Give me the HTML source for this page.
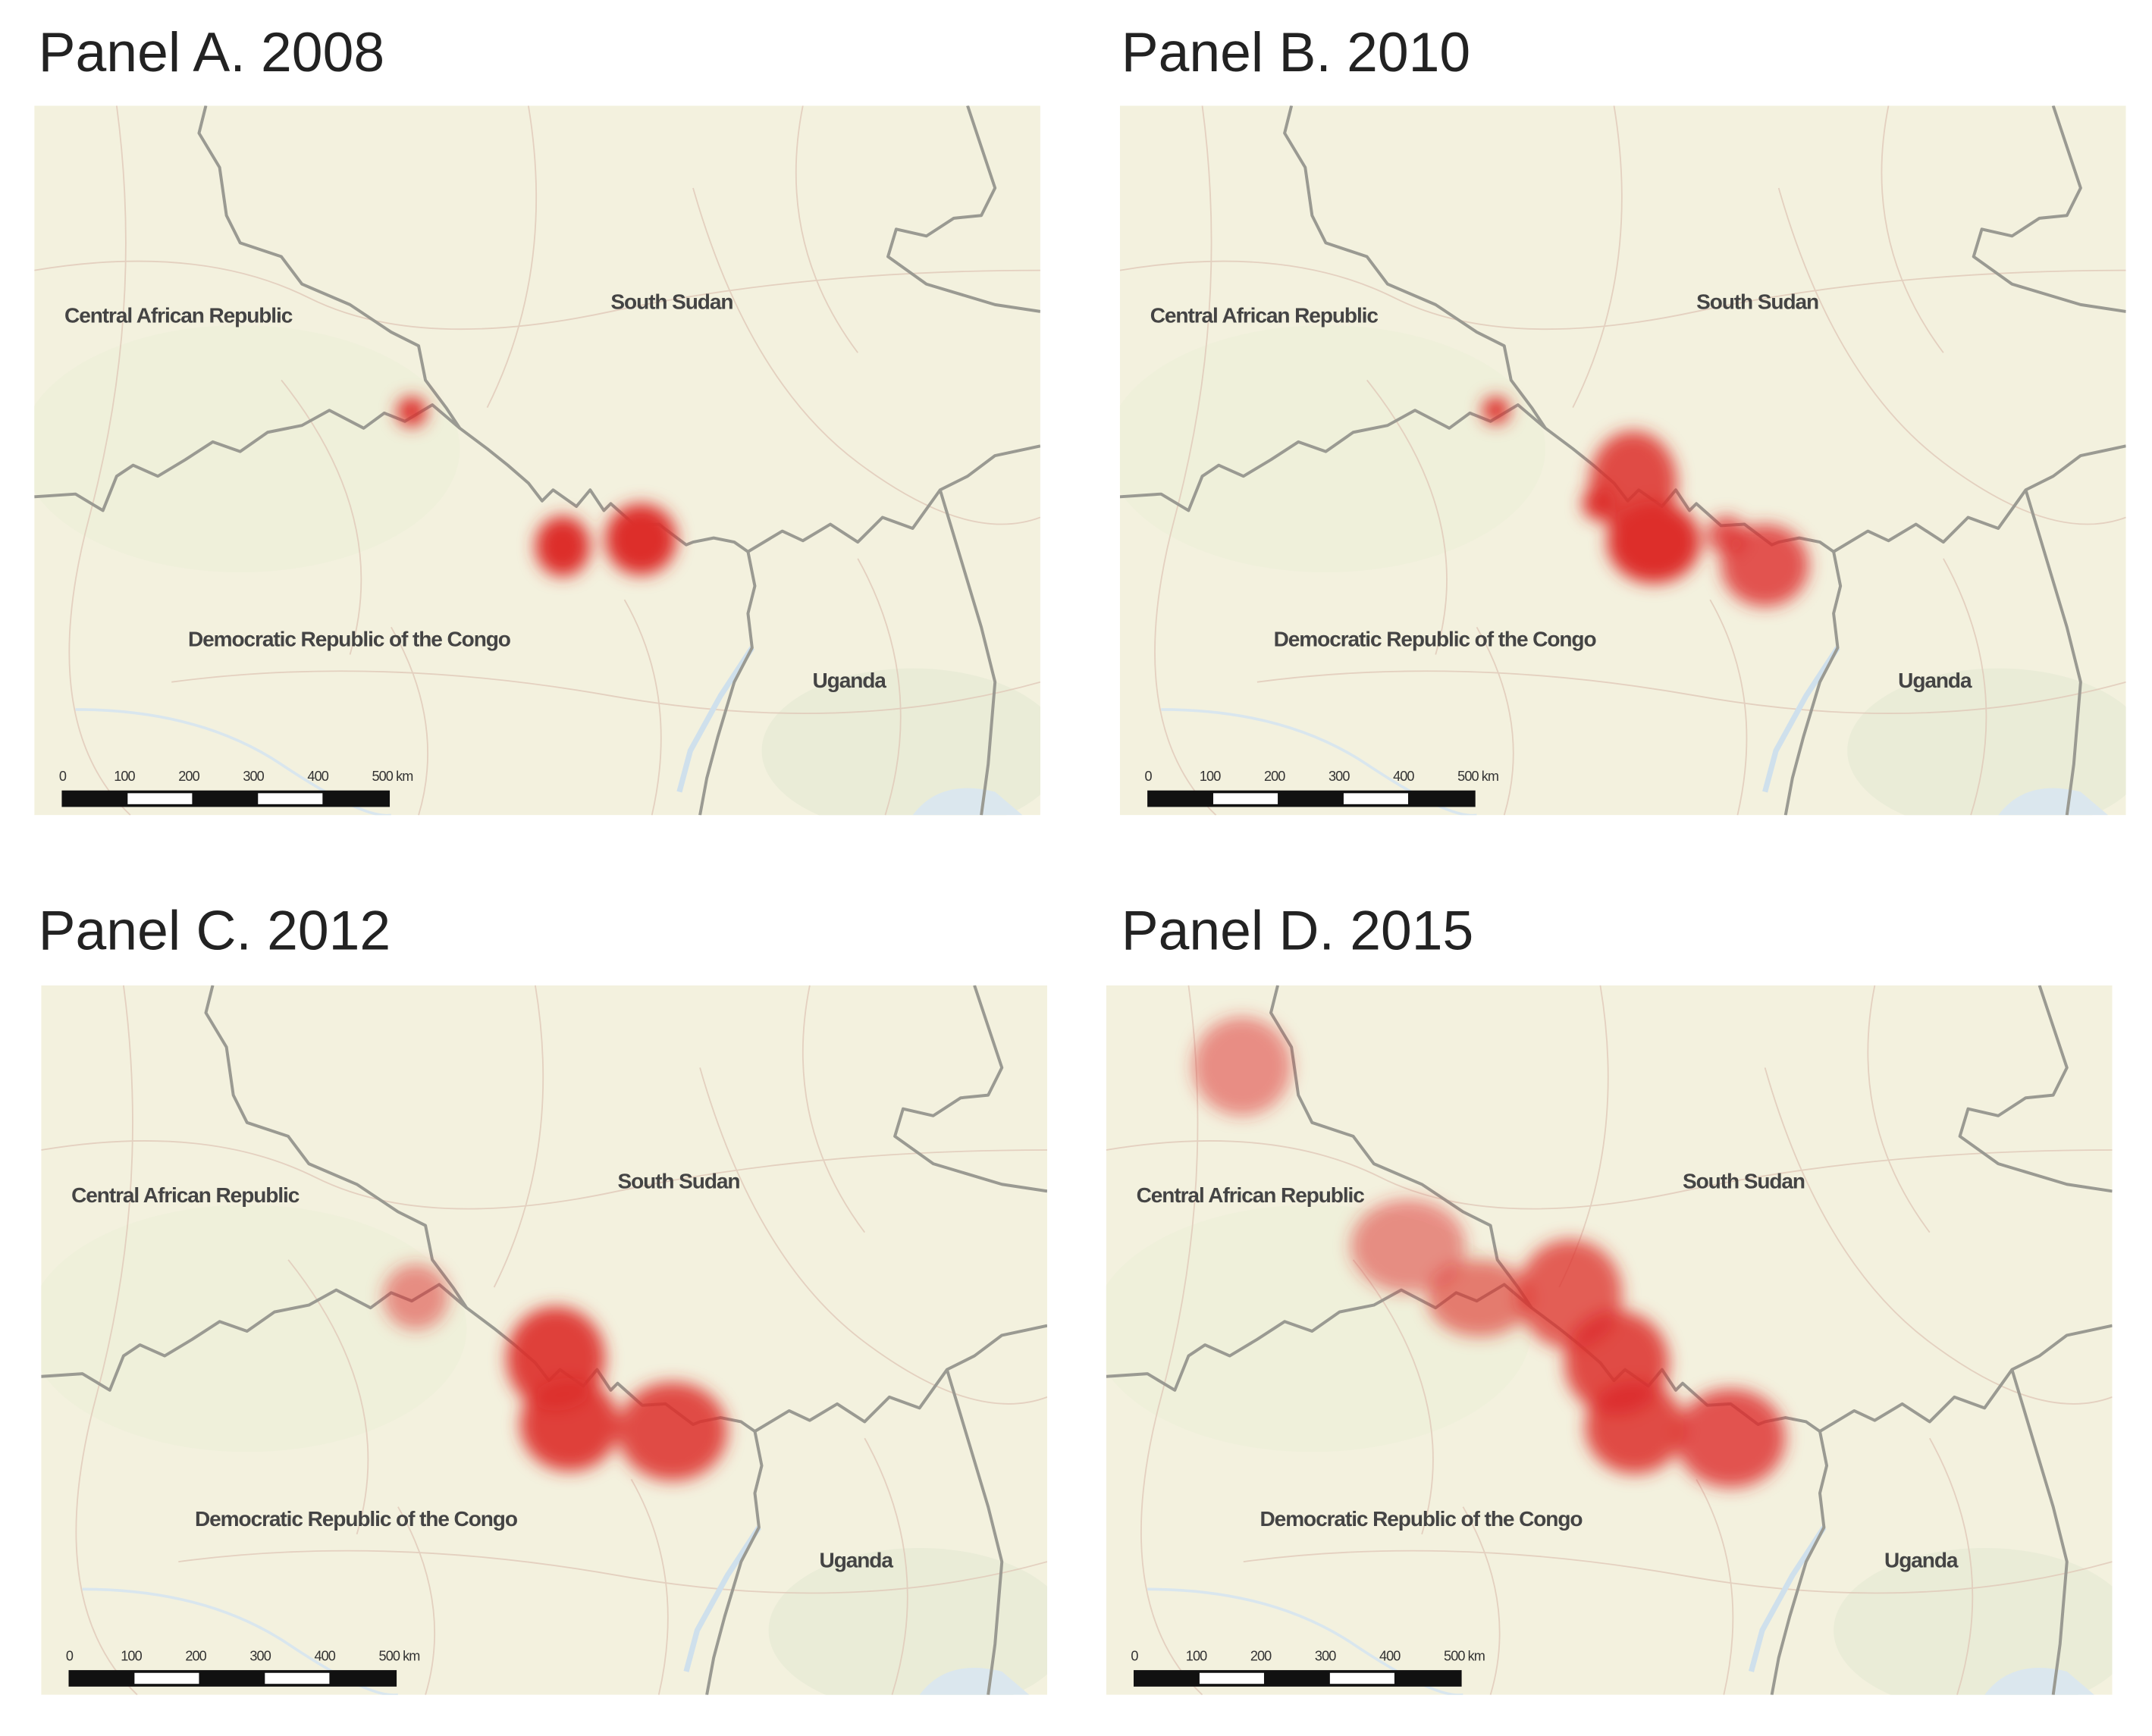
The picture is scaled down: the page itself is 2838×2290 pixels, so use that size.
<!DOCTYPE html>
<html><head><meta charset="utf-8"><style>
html,body{margin:0;padding:0;background:#fff}
svg{display:block}
text{font-family:"Liberation Sans",sans-serif}
</style></head><body>
<svg width="2838" height="2290" viewBox="0 0 1568 1265" preserveAspectRatio="none" xmlns="http://www.w3.org/2000/svg">
<defs>
<clipPath id="cp"><rect x="0" y="0" width="733" height="517"/></clipPath>
<filter id="bl" x="-50%" y="-50%" width="200%" height="200%"><feGaussianBlur stdDeviation="6"/></filter>
<g id="base">
<rect x="0" y="0" width="733" height="517" fill="#f3f1de"/>
<ellipse cx="150" cy="250" rx="160" ry="90" fill="#ecefd8" opacity=".7"/>
<ellipse cx="640" cy="470" rx="110" ry="60" fill="#e6ead4" opacity=".7"/>
<g fill="none" stroke="#e0c8b8" stroke-width="1" opacity=".8">
<path d="M0 120 Q120 100 200 140 T420 150 T733 120"/>
<path d="M60 0 Q80 150 40 300 T70 517"/>
<path d="M260 380 Q300 450 280 517"/>
<path d="M360 0 Q380 120 330 220"/>
<path d="M480 60 Q520 200 600 260 T733 300"/>
<path d="M100 420 Q250 400 420 430 T733 420"/>
<path d="M180 200 Q260 300 230 400"/>
<path d="M560 0 Q540 100 600 180"/>
<path d="M430 360 Q470 430 450 517"/>
<path d="M600 330 Q650 420 620 517"/>
</g>
<path d="M30 440 Q120 440 180 480 T260 517" fill="none" stroke="#d9e6ee" stroke-width="2"/>
<path d="M523 395 L500 430 L478 470 L470 500" fill="none" stroke="#cfe0ec" stroke-width="4"/>
<path d="M640 517 Q660 490 700 500 L720 517Z" fill="#dbe7ee"/>
<g fill="none" stroke="#9a9a92" stroke-width="2.2" stroke-linejoin="round">
<path d="M125 0 L120 20 L135 45 L140 80 L150 100 L180 110 L195 130 L230 145 L260 165 L280 175 L285 200 L300 220 L310 235 L330 250 L345 262 L360 275 L370 288 L378 280 L395 292 L405 280 L415 295 L420 290 L438 306 L455 305 L475 320 L480 318 L495 315 L510 318 L520 325"/>
<path d="M0 285 L30 283 L50 295 L60 270 L72 262 L90 270 L110 258 L130 245 L150 252 L170 238 L195 233 L215 222 L240 235 L255 224 L270 230 L290 218 L310 235"/>
<path d="M520 325 L525 350 L520 370 L523 395 L510 420 L498 460 L490 490 L485 517"/>
<path d="M520 325 L545 310 L560 317 L580 305 L600 318 L618 300 L640 308 L660 280 L680 270 L700 255 L733 248"/>
<path d="M660 280 L675 330 L690 380 L700 420 L695 480 L690 517"/>
<path d="M680 0 L690 30 L700 60 L690 80 L670 82 L650 95 L628 90 L622 110 L650 130 L700 145 L733 150"/>
</g>
<g font-size="15.5" font-weight="bold" fill="#444" letter-spacing="-0.6">
<text x="22" y="158">Central African Republic</text>
<text x="420" y="148">South Sudan</text>
<text x="112" y="394">Democratic Republic of the Congo</text>
<text x="567" y="424">Uganda</text>
</g>
<g font-size="10" fill="#333" letter-spacing="-0.5">
<text x="18" y="492">0</text><text x="58" y="492">100</text><text x="105" y="492">200</text><text x="152" y="492">300</text><text x="199" y="492">400</text><text x="246" y="492">500 km</text>
</g>
<rect x="20" y="499" width="239" height="12" fill="#111"/>
<rect x="68" y="501" width="47" height="8" fill="#fff"/>
<rect x="163" y="501" width="47" height="8" fill="#fff"/>
</g>
</defs>
<g font-size="40.5" fill="#222">
<text x="28" y="52">Panel A. 2008</text>
<text x="817" y="52">Panel B. 2010</text>
<text x="28" y="692">Panel C. 2012</text>
<text x="817" y="692">Panel D. 2015</text>
</g>
<g transform="translate(25,77)" clip-path="url(#cp)"><use href="#base"/>
<g fill="#dd2d2a" filter="url(#bl)">
<circle cx="275" cy="223" r="11"/>
<ellipse cx="385" cy="321" rx="20" ry="22"/>
<ellipse cx="442" cy="316" rx="26" ry="26"/>
</g></g>
<g transform="translate(816,77)" clip-path="url(#cp)"><use href="#base"/>
<g fill="#dd2d2a" filter="url(#bl)">
<circle cx="274" cy="222" r="10"/>
<ellipse cx="374" cy="275" rx="32" ry="38" opacity=".85"/>
<ellipse cx="389" cy="318" rx="34" ry="30"/>
<circle cx="349" cy="290" r="12"/>
<ellipse cx="470" cy="335" rx="32" ry="30" opacity=".8"/>
<circle cx="442" cy="313" r="14" opacity=".8"/>
</g></g>
<g transform="translate(30,718)" clip-path="url(#cp)"><use href="#base"/>
<g fill="#dd2d2a" filter="url(#bl)">
<circle cx="273" cy="227" r="24" opacity=".5"/>
<ellipse cx="375" cy="272" rx="36" ry="38" opacity=".9"/>
<ellipse cx="385" cy="320" rx="36" ry="34" opacity=".9"/>
<ellipse cx="460" cy="325" rx="40" ry="36" opacity=".85"/>
</g></g>
<g transform="translate(806,718)" clip-path="url(#cp)"><use href="#base"/>
<g fill="#dd2d2a" filter="url(#bl)">
<circle cx="99" cy="59" r="36" opacity=".5"/>
<ellipse cx="220" cy="190" rx="42" ry="34" opacity=".5"/>
<ellipse cx="272" cy="228" rx="38" ry="28" opacity=".6"/>
<ellipse cx="338" cy="225" rx="38" ry="40" opacity=".75"/>
<ellipse cx="372" cy="275" rx="38" ry="38" opacity=".85"/>
<ellipse cx="385" cy="322" rx="36" ry="34" opacity=".85"/>
<ellipse cx="455" cy="330" rx="40" ry="36" opacity=".8"/>
</g></g>
</svg>
</body></html>
